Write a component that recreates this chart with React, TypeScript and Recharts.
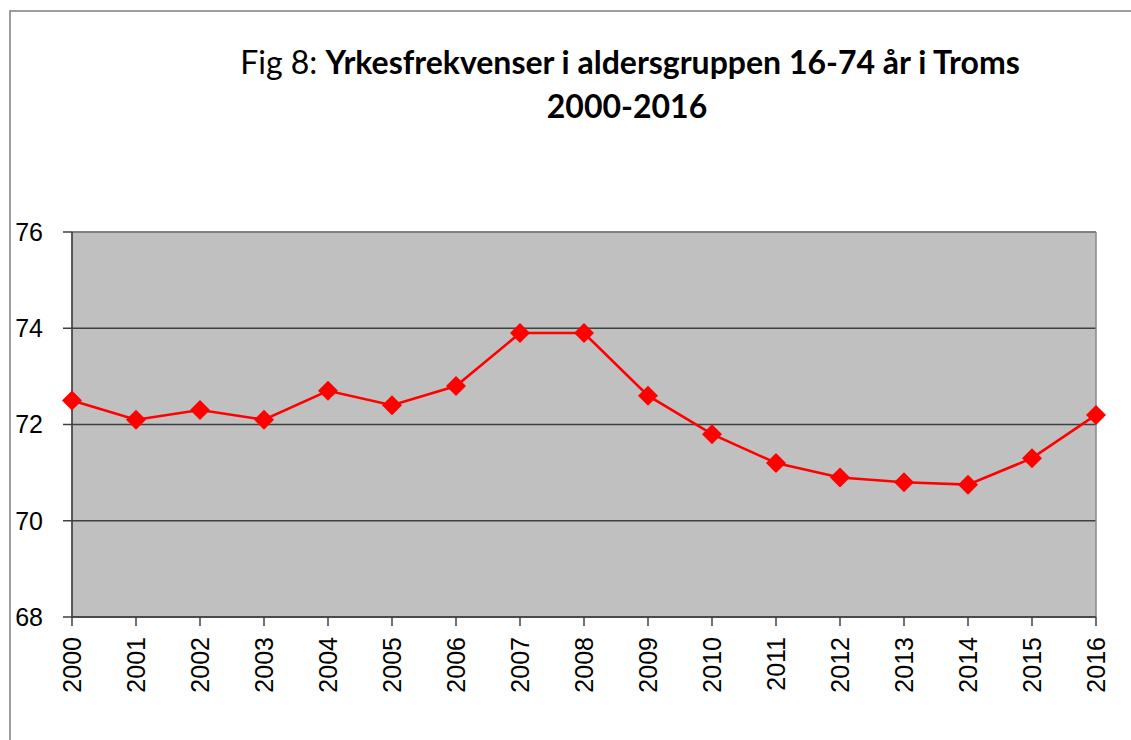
import { LineChart, Line, XAxis, YAxis, CartesianGrid, ReferenceLine } from 'recharts'

const years = ['2000', '2001', '2002', '2003', '2004', '2005', '2006', '2007', '2008', '2009', '2010', '2011', '2012', '2013', '2014', '2015', '2016']
const rates = [72.5, 72.1, 72.3, 72.1, 72.7, 72.4, 72.8, 73.9, 73.9, 72.6, 71.8, 71.2, 70.9, 70.8, 70.75, 71.3, 72.2]
const yTicks = [68, 70, 72, 74, 76]

const titlePrefix = 'Fig 8: '
const titleMain = 'Yrkesfrekvenser i aldersgruppen 16-74 år i Troms'
const titleLine2 = '2000-2016'

const data = years.map((year, i) => ({ year, rate: rates[i] }))

const Diamond = (props: any) => {
  const { cx, cy, index } = props
  if (cx == null || cy == null) return null
  const r = 10
  return (
    <polygon
      key={`d-${index}`}
      points={`${cx},${cy - r} ${cx + r},${cy} ${cx},${cy + r} ${cx - r},${cy}`}
      fill="#ff0000"
    />
  )
}

const YearTick = (props: any) => {
  const { x, y, payload } = props
  return (
    <text
      transform={`translate(${x},${y + 9}) rotate(-90)`}
      textAnchor="end"
      dominantBaseline="central"
      fontFamily="'Liberation Sans', Arial, sans-serif"
      fontSize={25}
      fill="#000"
    >
      {payload.value}
    </text>
  )
}

export default function App() {
  return (
    <div style={{ position: 'absolute', left: 0, top: 0, width: 1131, height: 740, overflow: 'hidden', background: '#fff' }}>
      <LineChart width={1131} height={740} data={data} margin={{ top: 232, right: 35, left: 0, bottom: 0 }}>
        <CartesianGrid vertical={false} fill="#c0c0c0" stroke="#404040" strokeWidth={1.3} />
        <ReferenceLine y={76} stroke="#8a8a8a" strokeWidth={1.5} />
        <ReferenceLine x="2016" stroke="#8a8a8a" strokeWidth={1.5} />
        <XAxis
          dataKey="year"
          height={123}
          interval={0}
          tickSize={9}
          tickMargin={2}
          axisLine={{ stroke: '#404040', strokeWidth: 1.7 }}
          tickLine={{ stroke: '#404040', strokeWidth: 1.5 }}
          tick={<YearTick />}
        />
        <YAxis
          width={72}
          domain={[68, 76]}
          ticks={yTicks}
          interval={0}
          tickSize={9}
          tickMargin={20}
          axisLine={{ stroke: '#404040', strokeWidth: 1.7 }}
          tickLine={{ stroke: '#404040', strokeWidth: 1.5 }}
          tick={{ fill: '#000', fontSize: 25, fontFamily: "'Liberation Sans', Arial, sans-serif" }}
        />
        <Line
          type="linear"
          dataKey="rate"
          stroke="#ff0000"
          strokeWidth={2.6}
          dot={(p: any) => <Diamond key={`dot-${p.index}`} {...p} />}
          activeDot={false}
          isAnimationActive={false}
        />
      </LineChart>
      <svg width={1131} height={740} style={{ position: 'absolute', left: 0, top: 0, pointerEvents: 'none' }}>
        <rect x={10} y={11} width={2000} height={2000} fill="none" stroke="#868686" strokeWidth={1.6} />
        <text x={630} y={74} textAnchor="middle" fontFamily="Lato, 'Open Sans', sans-serif" fontSize={32} fill="#000">
          <tspan>{titlePrefix}</tspan>
          <tspan fontWeight="bold">{titleMain}</tspan>
        </text>
        <text x={627} y={118} textAnchor="middle" fontFamily="Lato, 'Open Sans', sans-serif" fontSize={32} fontWeight="bold" fill="#000">
          {titleLine2}
        </text>
      </svg>
    </div>
  )
}
